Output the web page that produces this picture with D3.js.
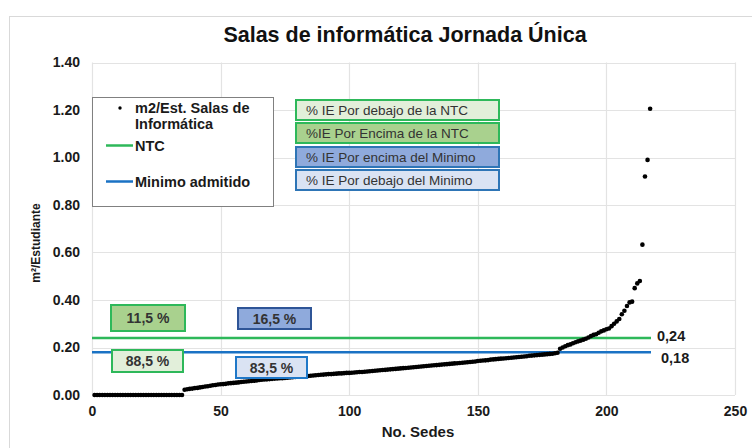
<!DOCTYPE html>
<html lang="es">
  <head>
    <meta charset="UTF-8" />
    <title>Salas de informática Jornada Única</title>
    <script src="https://cdn.jsdelivr.net/npm/d3@7"></script>
    <style>
      body { margin: 0; background: #fff; }
      text { font-family: "Liberation Sans", Arial, sans-serif; }
    </style>
  </head>
  <body>
    <script>
      // valores m2/estudiante por sede, ordenados (217 sedes)
      var ceros = [0,0,0,0,0,0,0,0,0,0, 0,0,0,0,0,0,0,0,0,0, 0,0,0,0,0,0,0,0,0,0, 0,0,0,0,0];
      var tramoMedio = [
        0.022, 0.024, 0.026, 0.027, 0.029, 0.030, 0.032, 0.034, 0.036, 0.037,
        0.039, 0.041, 0.042, 0.044, 0.045, 0.046, 0.047, 0.049, 0.050, 0.051,
        0.052, 0.053, 0.055, 0.056, 0.057, 0.058, 0.059, 0.060, 0.061, 0.063,
        0.064, 0.065, 0.066, 0.067, 0.068, 0.069, 0.070, 0.071, 0.071, 0.072,
        0.073, 0.074, 0.075, 0.076, 0.077, 0.078, 0.079, 0.080, 0.080, 0.081,
        0.082, 0.083, 0.084, 0.085, 0.086, 0.087, 0.088, 0.088, 0.089, 0.090,
        0.091, 0.091, 0.092, 0.093, 0.093, 0.094, 0.095, 0.096, 0.097, 0.097,
        0.098, 0.099, 0.100, 0.101, 0.102, 0.103, 0.104, 0.105, 0.106, 0.107,
        0.108, 0.109, 0.110, 0.111, 0.112, 0.113, 0.114, 0.115, 0.116, 0.117,
        0.118, 0.119, 0.120, 0.121, 0.122, 0.123, 0.124, 0.125, 0.126, 0.127,
        0.128, 0.129, 0.130, 0.131, 0.132, 0.133, 0.134, 0.135, 0.136, 0.137,
        0.138, 0.139, 0.140, 0.141, 0.143, 0.144, 0.145, 0.146, 0.147, 0.149,
        0.150, 0.151, 0.152, 0.153, 0.154, 0.155, 0.156, 0.157, 0.158, 0.159,
        0.160, 0.161, 0.162, 0.163, 0.165, 0.166, 0.167, 0.168, 0.169, 0.170,
        0.171, 0.172, 0.173, 0.174, 0.176, 0.178
      ];
      var tramoAlto = [
        0.195, 0.200, 0.205, 0.210, 0.213, 0.218, 0.222, 0.226, 0.229, 0.233, 0.237,
        0.242, 0.248, 0.253, 0.256, 0.262, 0.268, 0.272, 0.277, 0.280, 0.290,
        0.300, 0.310, 0.320, 0.340, 0.355, 0.375, 0.390, 0.393, 0.450, 0.470,
        0.480, 0.633, 0.920, 0.990, 1.205
      ];
      var valores = ceros.concat(tramoMedio, tramoAlto);

      var NTC = 0.24;
      var minimo = 0.18;
      var xTicks = [0, 50, 100, 150, 200, 250];
      var yTicks = [0, 0.2, 0.4, 0.6, 0.8, 1.0, 1.2, 1.4];

      var leyendaSerie = ["m2/Est. Salas de", "Informática"];
      var cajasLeyenda = [
        { txt: "% IE Por debajo de la NTC", fill: "#e2efda", stroke: "#2eb85a" },
        { txt: "%IE Por Encima de la NTC", fill: "#a9d18e", stroke: "#2eb85a" },
        { txt: "% IE Por encima del Minimo", fill: "#8faadc", stroke: "#2e75b6" },
        { txt: "% IE Por debajo del Minimo", fill: "#dae3f3", stroke: "#2e75b6" }
      ];
      var porcentajes = [
        { txt: "11,5 %", x: 111, y: 305, w: 74, h: 26, fill: "#a9d18e", stroke: "#2eb85a" },
        { txt: "16,5 %", x: 238, y: 308, w: 73, h: 21, fill: "#8faadc", stroke: "#2f5597" },
        { txt: "88,5 %", x: 112, y: 350, w: 71, h: 22, fill: "#e2efda", stroke: "#2eb85a" },
        { txt: "83,5 %", x: 236, y: 357, w: 71, h: 21, fill: "#dae3f3", stroke: "#1f78c8" }
      ];

      var W = 752, H = 448;
      var svg = d3.select("body").append("svg").attr("width", W).attr("height", H);

      // marco del grafico
      svg.append("rect")
        .attr("x", 9.5).attr("y", 16.5)
        .attr("width", W).attr("height", H)
        .attr("fill", "#fff").attr("stroke", "#d9d9d9");

      var x = d3.scaleLinear().domain([0, 250]).range([92, 735]);
      var y = d3.scaleLinear().domain([0, 1.4]).range([395, 62.5]);

      // rejilla
      svg.append("g").selectAll("line.h").data(yTicks).enter().append("line")
        .attr("x1", x(0)).attr("x2", x(250))
        .attr("y1", function (d) { return Math.round(y(d)) + 0.5; })
        .attr("y2", function (d) { return Math.round(y(d)) + 0.5; })
        .attr("stroke", "#e3e3e3").attr("stroke-width", 1.2);
      svg.append("g").selectAll("line.v").data(xTicks).enter().append("line")
        .attr("y1", y(0)).attr("y2", y(1.4))
        .attr("x1", function (d) { return Math.round(x(d)) + 0.5; })
        .attr("x2", function (d) { return Math.round(x(d)) + 0.5; })
        .attr("stroke", "#e3e3e3").attr("stroke-width", 1.2);

      // ejes
      var yAxis = svg.append("g")
        .attr("transform", "translate(" + x(0) + ",0)")
        .call(d3.axisLeft(y).tickValues(yTicks).tickFormat(d3.format(".2f")).tickSize(0).tickPadding(13));
      var xAxis = svg.append("g")
        .attr("transform", "translate(0," + y(0) + ")")
        .call(d3.axisBottom(x).tickValues(xTicks).tickSize(0).tickPadding(11));
      [xAxis, yAxis].forEach(function (g) {
        g.select(".domain").remove();
        g.selectAll("text")
          .attr("font-family", "Liberation Sans, Arial, sans-serif")
          .attr("font-size", 14).attr("font-weight", "bold").attr("fill", "#1a1a1a");
      });
      yAxis.selectAll("text").attr("dx", 1);

      // titulo y rotulos de ejes
      svg.append("text").attr("x", 405).attr("y", 42).attr("text-anchor", "middle")
        .attr("font-size", 21.5).attr("font-weight", "bold").attr("fill", "#111")
        .text("Salas de informática Jornada Única");
      svg.append("text").attr("x", 418).attr("y", 437).attr("text-anchor", "middle")
        .attr("font-size", 15).attr("font-weight", "bold").attr("fill", "#1a1a1a")
        .text("No. Sedes");
      svg.append("text")
        .attr("transform", "translate(40,243) rotate(-90)")
        .attr("text-anchor", "middle")
        .attr("font-size", 12).attr("font-weight", "bold").attr("fill", "#1a1a1a")
        .text("m²/Estudiante");

      // lineas de referencia
      var refs = [
        { v: NTC, color: "#2eb85a", lbl: "0,24", lx: 657, dy: 3 },
        { v: minimo, color: "#1a72c4", lbl: "0,18", lx: 661, dy: 11 }
      ];
      refs.forEach(function (r) {
        svg.append("line")
          .attr("x1", x(0)).attr("x2", 651)
          .attr("y1", y(r.v)).attr("y2", y(r.v))
          .attr("stroke", r.color).attr("stroke-width", 2.5);
        svg.append("text").attr("x", r.lx).attr("y", y(r.v) + r.dy)
          .attr("font-size", 14.5).attr("font-weight", "bold").attr("fill", "#1a1a1a")
          .text(r.lbl);
      });

      // puntos
      svg.append("g").selectAll("circle").data(valores).enter().append("circle")
        .attr("cx", function (d, i) { return x(i + 1); })
        .attr("cy", function (d) { return y(d); })
        .attr("r", 2.3)
        .attr("fill", "#000");

      // leyenda
      var leg = svg.append("g");
      leg.append("rect").attr("x", 92.5).attr("y", 97.5).attr("width", 181).attr("height", 109)
        .attr("fill", "#fff").attr("stroke", "#808080").attr("stroke-width", 1);
      leg.append("circle").attr("cx", 120).attr("cy", 108).attr("r", 1.7).attr("fill", "#000");
      leg.selectAll("text.s").data(leyendaSerie).enter().append("text")
        .attr("x", 135).attr("y", function (d, i) { return 113 + i * 16; })
        .attr("font-size", 14.5).attr("font-weight", "bold").attr("fill", "#1a1a1a")
        .text(function (d) { return d; });
      refs.forEach(function (r, i) {
        var ly = i === 0 ? 145.5 : 181.5;
        leg.append("line").attr("x1", 106).attr("x2", 133).attr("y1", ly).attr("y2", ly)
          .attr("stroke", r.color).attr("stroke-width", 2.5);
        leg.append("text").attr("x", 135).attr("y", ly + 5)
          .attr("font-size", 14.5).attr("font-weight", "bold").attr("fill", "#1a1a1a")
          .text(i === 0 ? "NTC" : "Minimo admitido");
      });

      // cajas explicativas
      var cajaY = [100, 123, 147, 170];
      var cajas = svg.append("g").selectAll("g").data(cajasLeyenda).enter().append("g");
      cajas.append("rect")
        .attr("x", 296).attr("y", function (d, i) { return cajaY[i]; })
        .attr("width", 203).attr("height", 20)
        .attr("fill", function (d) { return d.fill; })
        .attr("stroke", function (d) { return d.stroke; }).attr("stroke-width", 2);
      cajas.append("text")
        .attr("x", 306).attr("y", function (d, i) { return cajaY[i] + 15; })
        .attr("font-size", 13.5).attr("fill", "#333")
        .text(function (d) { return d.txt; });

      // porcentajes
      var pct = svg.append("g").selectAll("g").data(porcentajes).enter().append("g");
      pct.append("rect")
        .attr("x", function (d) { return d.x; }).attr("y", function (d) { return d.y; })
        .attr("width", function (d) { return d.w; }).attr("height", function (d) { return d.h; })
        .attr("fill", function (d) { return d.fill; })
        .attr("stroke", function (d) { return d.stroke; }).attr("stroke-width", 2);
      pct.append("text")
        .attr("x", function (d) { return d.x + d.w / 2; })
        .attr("y", function (d) { return d.y + d.h / 2 + 5; })
        .attr("text-anchor", "middle")
        .attr("font-size", 14).attr("font-weight", "bold").attr("fill", "#333")
        .text(function (d) { return d.txt; });
    </script>
  </body>
</html>
